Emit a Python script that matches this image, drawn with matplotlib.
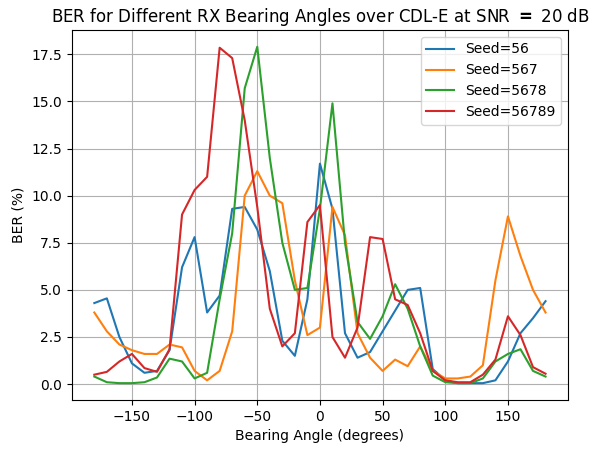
import numpy as np
import matplotlib
matplotlib.use('Agg')
import matplotlib.pyplot as plt

angles = np.arange(-180, 181, 10)

seed_56 = [4.3, 4.55, 2.5, 1.1, 0.6, 0.7, 1.8, 6.2, 7.8, 3.8, 4.7, 9.3, 9.4, 8.2, 6.0, 2.3, 1.5, 4.5,
           11.7, 9.3, 2.7, 1.4, 1.7, 2.8, 3.9, 5.0, 5.1, 0.8, 0.2, 0.05, 0.05, 0.05, 0.2, 1.2, 2.7, 3.5, 4.4]
seed_567 = [3.8, 2.8, 2.1, 1.8, 1.6, 1.6, 2.1, 1.95, 0.7, 0.2, 0.7, 2.8, 10.0, 11.3, 10.0, 9.6, 5.5, 2.6,
            3.0, 9.4, 7.9, 2.7, 1.4, 0.7, 1.3, 0.95, 2.0, 0.7, 0.3, 0.3, 0.4, 1.0, 5.5, 8.9, 6.8, 5.0, 3.8]
seed_5678 = [0.4, 0.1, 0.05, 0.05, 0.1, 0.35, 1.35, 1.2, 0.3, 0.6, 4.5, 8.0, 15.7, 17.9, 12.0, 7.5, 5.0, 5.1,
             9.3, 14.9, 7.5, 3.3, 2.4, 3.6, 5.3, 4.0, 2.0, 0.45, 0.1, 0.05, 0.05, 0.3, 1.2, 1.6, 1.85, 0.7, 0.4]
seed_56789 = [0.5, 0.65, 1.2, 1.6, 0.85, 0.65, 1.85, 9.0, 10.3, 11.0, 17.85, 17.3, 14.0, 9.4, 4.0, 2.0, 2.7, 8.6,
              9.5, 2.5, 1.4, 3.0, 7.8, 7.7, 4.5, 4.2, 2.7, 0.7, 0.2, 0.1, 0.1, 0.5, 1.3, 3.6, 2.6, 0.9, 0.55]

fig, ax = plt.subplots(figsize=(5.98, 4.54), dpi=100)
for label, vals in [('Seed=56', seed_56), ('Seed=567', seed_567),
                    ('Seed=5678', seed_5678), ('Seed=56789', seed_56789)]:
    ax.plot(angles, vals, label=label)

ax.set_title(r'BER for Different RX Bearing Angles over CDL-E at SNR $\mathbf{=}$ 20 dB')
ax.set_xlabel('Bearing Angle (degrees)')
ax.set_ylabel('BER (%)')
ax.grid(True)
ax.legend(loc='upper right')
fig.subplots_adjust(left=0.12, right=0.95, top=0.934, bottom=0.119)
fig.savefig('out.png')
